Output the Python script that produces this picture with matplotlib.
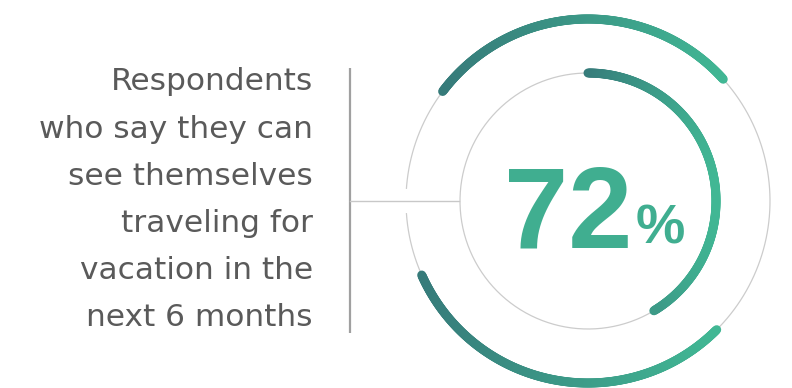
import numpy as np
import matplotlib.pyplot as plt
from matplotlib.collections import LineCollection
from matplotlib.colors import LinearSegmentedColormap

# share of respondents
pct = 72
label_lines = ["Respondents", "who say they can", "see themselves",
               "traveling for", "vacation in the", "next 6 months"]

# ring geometry (pixels)
cx, cy = 588, 201
r_outer, r_inner = 182, 128
outer_arcs = [(42, 143), (204, 315)]   # decorative outer segments, degrees
gauge_start = 90                        # inner gauge starts at the top
gauge_full = 207                        # sweep in degrees for 100 %

teal = LinearSegmentedColormap.from_list("teal", ["#367b7a", "#41b794"])


def grad_arc(ax, r, t1, t2, lw):
    t = np.radians(np.linspace(t1, t2, 300))
    x = cx + r * np.cos(t)
    y = cy - r * np.sin(t)
    pts = np.column_stack([x, y]).reshape(-1, 1, 2)
    segs = np.concatenate([pts[:-1], pts[1:]], axis=1)
    xm = (x[:-1] + x[1:]) / 2
    c = teal((xm - x.min()) / (x.max() - x.min()))
    lc = LineCollection(segs, colors=c, linewidths=lw, capstyle="round")
    ax.add_collection(lc)


fig = plt.figure(figsize=(7.92, 3.88), dpi=100)
ax = fig.add_axes([0, 0, 1, 1])
ax.set_xlim(0, 792)
ax.set_ylim(388, 0)
ax.axis("off")

# thin guide circles; the outer one leaves a gap for the connector
tt = np.radians(np.linspace(-176, 176, 400))
ax.plot(cx + r_outer * np.cos(tt), cy - r_outer * np.sin(tt), color="#cccccc", lw=0.9)
tt = np.linspace(0, 2 * np.pi, 400)
ax.plot(cx + r_inner * np.cos(tt), cy + r_inner * np.sin(tt), color="#cccccc", lw=0.9)

for a1, a2 in outer_arcs:
    grad_arc(ax, r_outer, a1, a2, 6.5)

grad_arc(ax, r_inner, gauge_start, gauge_start - pct / 100 * gauge_full, 6.5)

# connector lines
ax.plot([350, 350], [68, 333], color="#a0a0a0", lw=1.6, solid_capstyle="butt")
ax.plot([350, cx - r_inner - 1], [cy, cy], color="#c8c8c8", lw=1.0)

# left caption
for i, line in enumerate(label_lines):
    ax.text(313, 82 + i * 47.2, line, ha="right", va="center",
            fontsize=22.5, color="#5a5a5a", family="DejaVu Sans")

ax.text(632, 248, str(pct), ha="right", va="baseline", fontsize=83,
        fontweight="bold", color="#40ae90", family="Liberation Sans")
ax.text(636, 243, "%", ha="left", va="baseline", fontsize=40,
        fontweight="bold", color="#40ae90", family="Liberation Sans")

fig.savefig("out.png", dpi=100)
